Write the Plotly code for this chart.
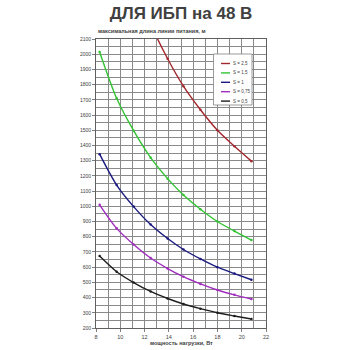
import plotly.graph_objects as go

power = [8.3, 9.7, 11.1, 12.5, 13.9, 15.2, 16.6, 18.0, 19.4, 20.8]
s_2_5 = [3365, 2850, 2495, 2200, 1970, 1790, 1635, 1500, 1395, 1297]
s_1_5 = [2015, 1710, 1497, 1320, 1182, 1074, 981, 900, 837, 778]
s_1 = [1343, 1140, 998, 880, 788, 716, 654, 600, 558, 517]
s_0_75 = [1010, 855, 749, 660, 591, 537, 490, 450, 418, 390]
s_0_5 = [673, 570, 499, 440, 394, 358, 327, 300, 279, 259]

names = ["S = 2,5", "S = 1,5", "S = 1", "S = 0,75", "S = 0,5"]
series = [s_2_5, s_1_5, s_1, s_0_75, s_0_5]
colors = ["#A3282E", "#33C333", "#1A1A80", "#A02EBE", "#1E1E1E"]

y_ticks = list(range(200, 2101, 100))
x_ticks = list(range(8, 23, 2))

# plot area geometry (pixels)
L, R, T, B = 96, 266, 39, 328
PW, PH = R - L, B - T

def px_x(p):
    return (p - L) / PW

def px_y(p):
    return 1 - (p - T) / PH

fig = go.Figure()
for name, vals, col in zip(names, series, colors):
    fig.add_trace(go.Scatter(
        x=power, y=vals, name=name, mode="lines+markers", showlegend=False,
        line=dict(color=col, width=1.4, shape="spline", smoothing=0.8),
        marker=dict(color=col, size=2.5),
    ))

# compact legend (Excel-style), built from names/colors
shapes = [dict(type="rect", xref="paper", yref="paper",
               x0=px_x(213.5), x1=px_x(252), y0=px_y(105), y1=px_y(54),
               line=dict(color="#808080", width=0.8), fillcolor="white", layer="above")]
annotations = []
for i, (name, col) in enumerate(zip(names, colors)):
    yy = px_y(63.5 + i * 9.4)
    shapes.append(dict(type="line", xref="paper", yref="paper",
                       x0=px_x(221), x1=px_x(230), y0=yy, y1=yy,
                       line=dict(color=col, width=1.4), layer="above"))
    annotations.append(dict(text=name, x=px_x(231), y=yy, xref="paper", yref="paper",
                            xanchor="left", yanchor="middle", showarrow=False,
                            font=dict(size=4.5, color="#404040")))

annotations.append(dict(text="<b>максимальная длина линии питания, м</b>", x=0, y=1,
                        xref="paper", yref="paper", xanchor="left", yanchor="bottom",
                        yshift=3, showarrow=False, font=dict(size=5.5, color="#404040")))
annotations.append(dict(text="<b>мощность нагрузки, Вт</b>", x=0.5, y=px_y(343),
                        xref="paper", yref="paper", xanchor="center", yanchor="middle",
                        showarrow=False, font=dict(size=5.5, color="#404040")))

grid_col = "#8A8A8A"
fig.update_layout(
    width=350, height=350,
    margin=dict(l=L, r=350 - R, t=T, b=350 - B),
    paper_bgcolor="white", plot_bgcolor="white",
    font=dict(family="Liberation Sans, Arial, sans-serif", color="#404040"),
    title=dict(text="<b>ДЛЯ ИБП на 48 В</b>", x=0.5, xref="paper", xanchor="center",
               y=1 - 13/350, yanchor="middle", yref="container",
               font=dict(size=17, color="#404040")),
    showlegend=False,
    xaxis=dict(range=[8, 22], tickvals=x_ticks, ticks="outside", ticklen=3,
               tickcolor="#808080", tickfont=dict(size=5.5, color="#404040"),
               showgrid=True, gridcolor=grid_col, gridwidth=0.8,
               minor=dict(dtick=1, showgrid=True, gridcolor=grid_col, gridwidth=0.8),
               showline=True, linecolor="#606060", linewidth=1, mirror=True,
               zeroline=False, automargin=False),
    yaxis=dict(range=[200, 2100], tickvals=y_ticks, ticks="outside", ticklen=3,
               tickcolor="#808080", tickfont=dict(size=5, color="#404040"),
               showgrid=True, gridcolor=grid_col, gridwidth=0.8,
               minor=dict(dtick=50, tick0=0, showgrid=True, gridcolor=grid_col, gridwidth=0.8),
               showline=True, linecolor="#606060", linewidth=1, mirror=True,
               zeroline=False, automargin=False),
    shapes=shapes,
    annotations=annotations,
)
fig.write_html("out.html")
